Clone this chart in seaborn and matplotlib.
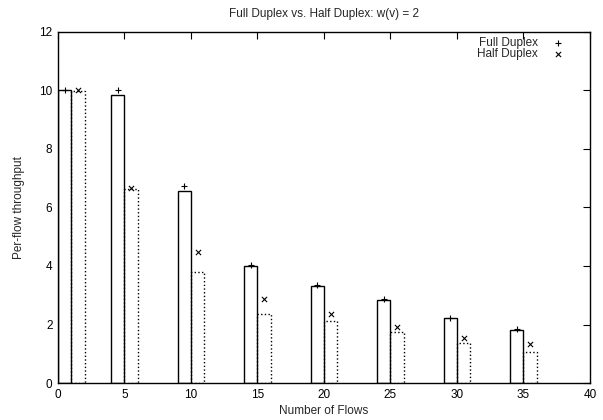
import numpy as np
import pandas as pd
import matplotlib
matplotlib.use("Agg")
import matplotlib.pyplot as plt
import seaborn as sns

sns.set_theme(style="white")
plt.rcParams['font.family'] = ['Liberation Sans', 'DejaVu Sans']

# numero de flujos
flows = [1, 5, 10, 15, 20, 25, 30, 35]
# altura de las barras
full_bars = [10.0, 9.85, 6.55, 4.0, 3.32, 2.85, 2.21, 1.80]
half_bars = [9.98, 6.63, 3.79, 2.37, 2.13, 1.74, 1.38, 1.07]
# puntos (+ y x)
full_pts = [10.0, 10.0, 6.75, 4.03, 3.36, 2.87, 2.23, 1.85]
half_pts = [10.0, 6.67, 4.49, 2.87, 2.36, 1.90, 1.53, 1.32]

x = np.array(flows, dtype=float)
df_full = pd.DataFrame({'x': x - 0.5, 'y': full_pts})
df_half = pd.DataFrame({'x': x + 0.5, 'y': half_pts})

fig = plt.figure(figsize=(6.03, 4.2), dpi=100)
ax = fig.add_axes([0.0962, 0.088, 0.882, 0.836])

ax.bar(x - 0.5, full_bars, width=1.0, facecolor='white', edgecolor='black',
       linewidth=1.0, zorder=2)
ax.bar(x + 0.5, half_bars, width=1.0, facecolor='none', edgecolor='black',
       linewidth=1.0, linestyle=':', zorder=2)

sns.scatterplot(data=df_full, x='x', y='y', marker='+', s=22, color='black',
                linewidth=0.8, ax=ax, zorder=3, label='Full Duplex')
sns.scatterplot(data=df_half, x='x', y='y', marker='x', s=14, color='black',
                linewidth=0.8, ax=ax, zorder=3, label='Half Duplex')

ax.set_xlim(0, 40)
ax.set_ylim(0, 12)
ax.set_xticks(range(0, 41, 5))
ax.set_yticks(range(0, 13, 2))
ax.tick_params(direction='in', length=5, width=0.8, top=True, right=True,
               labelsize=8.5, colors='black', pad=4)
for s in ax.spines.values():
    s.set_color('black')
    s.set_linewidth(1.0)

ax.set_xlabel('Number of Flows', fontsize=8.5, labelpad=3)
ax.set_ylabel('Per-flow throughput', fontsize=8.5, labelpad=10)
ax.set_title('Full Duplex vs. Half Duplex: w(v) = 2', fontsize=8.5, pad=11)

ax.legend(loc='upper right', bbox_to_anchor=(0.966, 1.008), frameon=False,
          markerfirst=False, fontsize=8.5, handletextpad=1.2,
          labelspacing=-0.08, borderaxespad=0.3, handlelength=1.0)

fig.savefig('out.png', dpi=100)
